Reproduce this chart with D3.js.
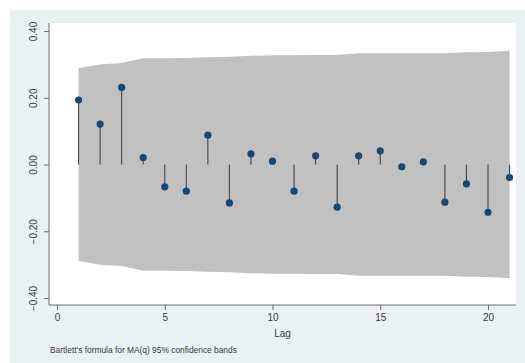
<!DOCTYPE html>
<html>
<head>
<meta charset="utf-8">
<script src="https://cdn.jsdelivr.net/npm/d3@7"></script>
<style>
html,body{margin:0;padding:0;background:#ffffff;}
svg{display:block;font-family:"Liberation Sans",Arial,sans-serif;}
</style>
</head>
<body>
<svg id="chart" width="525" height="363"></svg>
<script>
// Data
const lags = [1,2,3,4,5,6,7,8,9,10,11,12,13,14,15,16,17,18,19,20,21];
const acf = [0.193,0.121,0.231,0.021,-0.067,-0.080,0.088,-0.115,0.032,0.010,-0.080,0.026,-0.128,0.026,0.041,-0.007,0.008,-0.113,-0.058,-0.143,-0.039];
const bandUpper = [0.289,0.300,0.304,0.318,0.318,0.319,0.321,0.323,0.326,0.327,0.327,0.328,0.328,0.333,0.333,0.333,0.333,0.333,0.336,0.337,0.341];
const bandLower = [-0.289,-0.300,-0.304,-0.318,-0.318,-0.319,-0.321,-0.323,-0.326,-0.327,-0.327,-0.328,-0.328,-0.333,-0.333,-0.333,-0.333,-0.333,-0.336,-0.337,-0.341];
const xTicks = [0,5,10,15,20];
const yTicks = [-0.4,-0.2,0,0.2,0.4];
const xTitle = "Lag";
const note = "Bartlett's formula for MA(q) 95% confidence bands";

const svg = d3.select("#chart");
const W = 525, H = 363;

// plot region bounds
const plot = {left:49, right:516, top:23, bottom:305};

const x = d3.scaleLinear().domain([0,20]).range([57,488]);
const y = d3.scaleLinear().domain([-0.4,0.4]).range([298,31]);

// graph region background
svg.append("rect").attr("x",10).attr("y",10).attr("width",W-10).attr("height",H-10).attr("fill","#eaf1f3");
// plot region
svg.append("rect").attr("x",plot.left).attr("y",plot.top)
  .attr("width",plot.right-plot.left).attr("height",plot.bottom-plot.top).attr("fill","#ffffff");

// confidence band
const bandData = lags.map((l,i)=>({lag:l, lo:bandLower[i], hi:bandUpper[i]}));
svg.append("path").datum(bandData)
  .attr("d", d3.area().x(d=>x(d.lag)).y0(d=>y(d.lo)).y1(d=>y(d.hi)))
  .attr("fill","#c1c1c1");

// spikes
const pts = lags.map((l,i)=>({lag:l, v:acf[i]}));
svg.append("g").selectAll("line").data(pts).join("line")
  .attr("x1",d=>x(d.lag)).attr("x2",d=>x(d.lag))
  .attr("y1",y(0)).attr("y2",d=>y(d.v))
  .attr("stroke","#3d4650").attr("stroke-width",1.1);

// markers
svg.append("g").selectAll("circle").data(pts).join("circle")
  .attr("cx",d=>x(d.lag)).attr("cy",d=>y(d.v)).attr("r",3.6)
  .attr("fill","#1a476f");

// y axis
const yAxis = d3.axisLeft(y).tickValues(yTicks).tickSize(5).tickFormat(d3.format(".2f"));
const gy = svg.append("g").attr("transform",`translate(${plot.left},0)`).call(yAxis);
gy.select(".domain").remove();
gy.append("line").attr("x1",0).attr("x2",0).attr("y1",plot.top).attr("y2",plot.bottom).attr("stroke","#6e6e6e");
gy.selectAll(".tick line").attr("stroke","#6e6e6e");
gy.selectAll(".tick text")
  .attr("transform","rotate(-90)")
  .attr("x",0).attr("y",-12).attr("dy","0")
  .attr("text-anchor","middle")
  .attr("font-size",10).attr("fill","#3a3a3a")
  .attr("font-family","\"Liberation Sans\",Arial,sans-serif");

// x axis
const xAxis = d3.axisBottom(x).tickValues(xTicks).tickSize(5).tickFormat(d3.format("d"));
const gx = svg.append("g").attr("transform",`translate(0,${plot.bottom})`).call(xAxis);
gx.select(".domain").remove();
gx.append("line").attr("x1",plot.left).attr("x2",plot.right).attr("y1",0).attr("y2",0).attr("stroke","#6e6e6e");
gx.selectAll(".tick line").attr("stroke","#6e6e6e");
gx.selectAll(".tick text").attr("y",9).attr("dy","0.71em")
  .attr("font-size",10).attr("fill","#3a3a3a")
  .attr("font-family","\"Liberation Sans\",Arial,sans-serif");

// axis title
svg.append("text").attr("x",(plot.left+plot.right)/2).attr("y",337)
  .attr("text-anchor","middle").attr("font-size",10).attr("fill","#3a3a3a").text(xTitle);

// note
svg.append("text").attr("x",50).attr("y",353)
  .attr("font-size",8.4).attr("fill","#3a3a3a").text(note);
</script>
</body>
</html>
